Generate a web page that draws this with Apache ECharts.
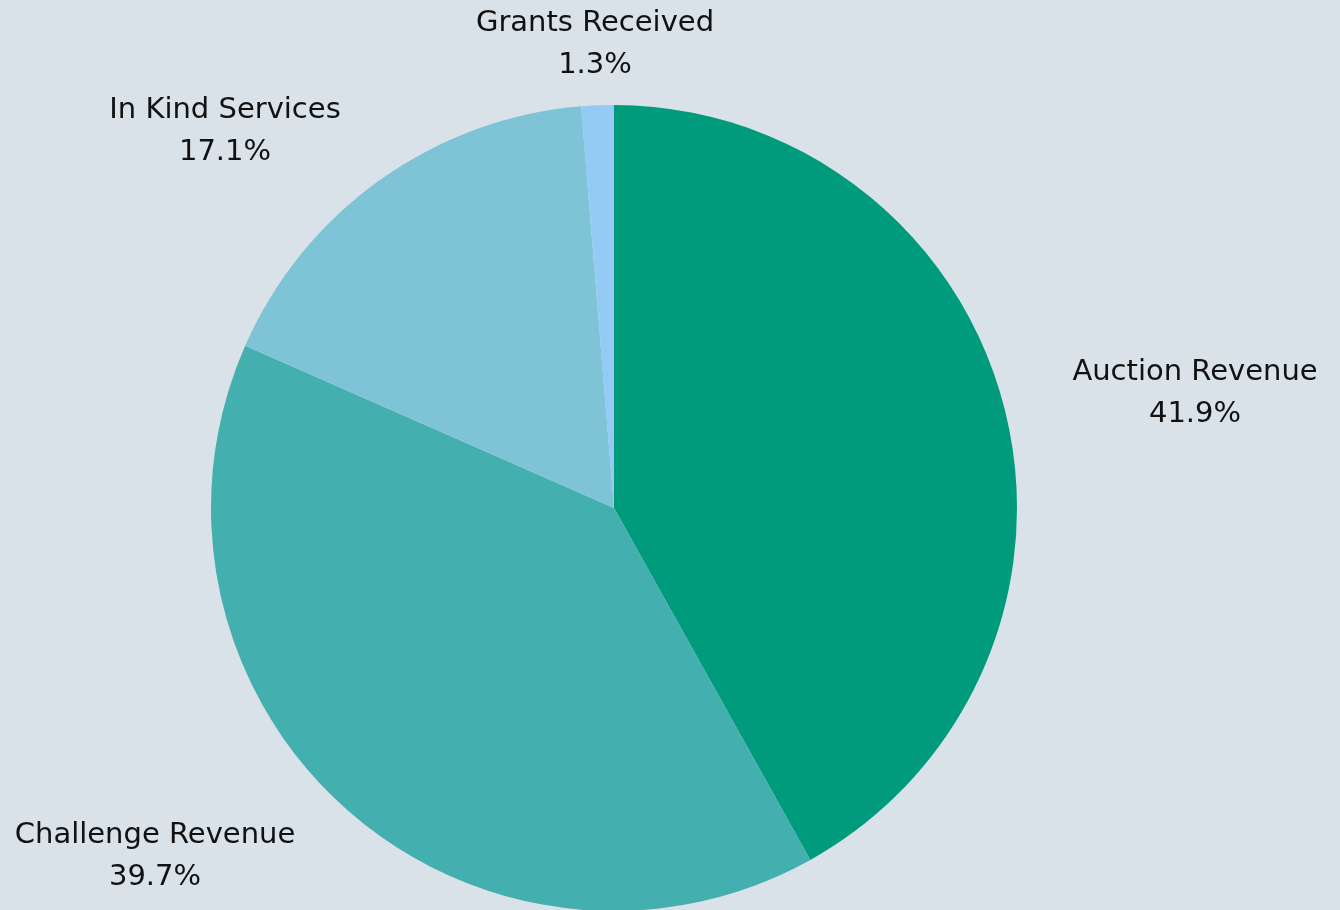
<!DOCTYPE html>
<html>
<head>
<meta charset="utf-8">
<script src="https://cdn.jsdelivr.net/npm/echarts@6/dist/echarts.min.js"></script>
<style>
html,body{margin:0;padding:0;background:#d9e2e9;}
#chart{width:1340px;height:910px;}
</style>
</head>
<body>
<div id="chart"></div>
<script>
const categories = ['Auction Revenue', 'Challenge Revenue', 'In Kind Services', 'Grants Received'];
const shares = [41.9, 39.7, 17.1, 1.3];
const colors = ['#009a7c', '#44afaf', '#7fc4d6', '#94cbf5'];
// label block centres (layout only)
const labelX = [1195, 155, 225, 595];
const labelY = [393, 856, 131, 44];

const chart = echarts.init(document.getElementById('chart'));
chart.setOption({
  backgroundColor: '#d9e2e9',
  animation: false,
  series: [{
    type: 'pie',
    center: [614, 508],
    radius: 403,
    startAngle: 90,
    clockwise: true,
    avoidLabelOverlap: false,
    data: categories.map((c, i) => ({ name: c, value: shares[i], itemStyle: { color: colors[i] } })),
    itemStyle: { borderWidth: 0 },
    label: {
      show: true,
      position: 'outside',
      formatter: p => p.name + '\n' + p.value.toFixed(1) + '%',
      fontFamily: 'DejaVu Sans',
      fontSize: 29,
      fontWeight: 'normal',
      lineHeight: 42,
      color: '#111111',
      align: 'center'
    },
    labelLine: { show: false },
    labelLayout: function (params) {
      return { x: labelX[params.dataIndex], y: labelY[params.dataIndex], align: 'center', verticalAlign: 'middle' };
    }
  }]
});
</script>
</body>
</html>
